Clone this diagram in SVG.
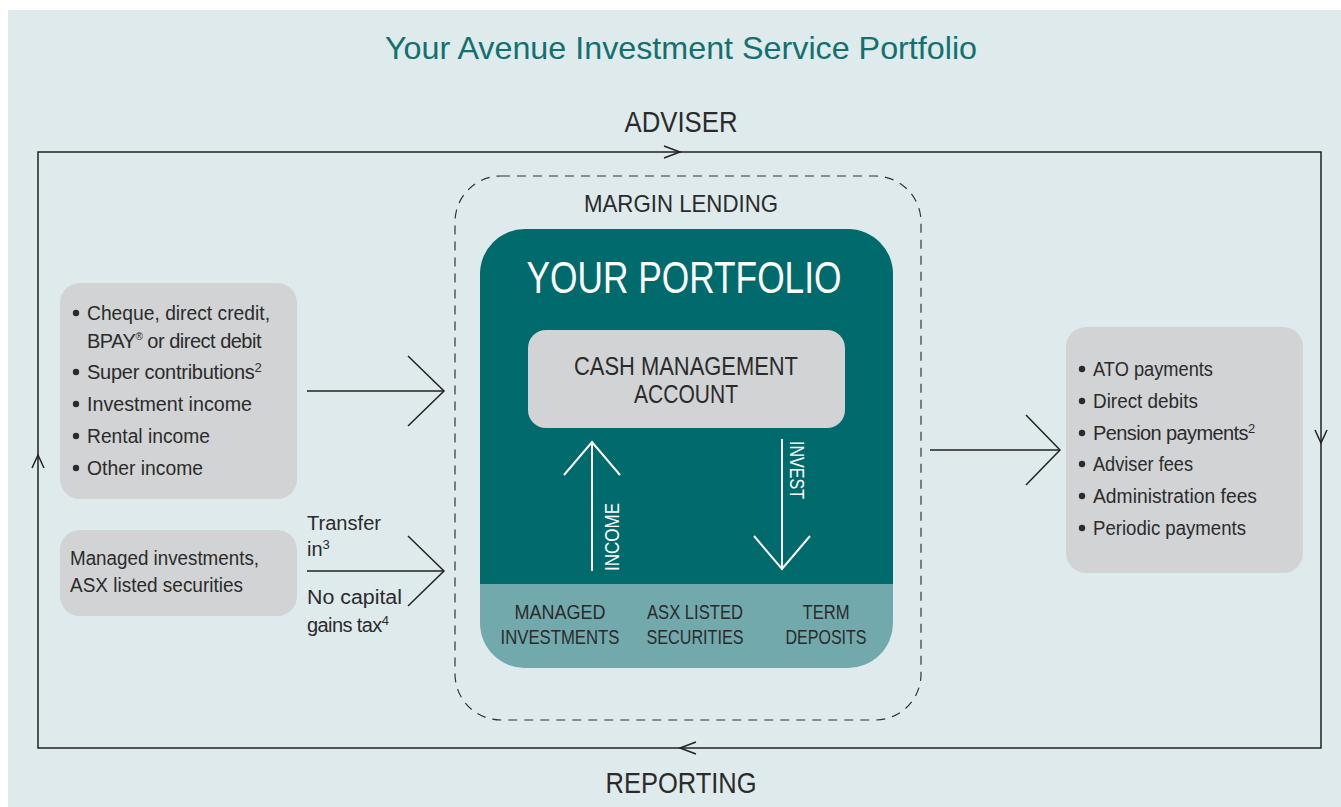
<svg xmlns="http://www.w3.org/2000/svg" width="1341" height="807" viewBox="0 0 1341 807">
  <defs>
    <style>
      .ink { fill: #2b2b2b; font-family: "Liberation Sans", Arial, sans-serif; }
      .body { font-size: 20px; }
      .sup { font-size: 13px; }
      .white { fill: #ffffff; font-family: "Liberation Sans", Arial, sans-serif; }
      .line { fill: none; stroke: #222; stroke-width: 1.5; }
      .wline { fill: none; stroke: #ffffff; stroke-width: 2; }
      .grey { fill: #d1d3d4; }
    </style>
  </defs>

  <!-- page background -->
  <rect x="0" y="0" width="1341" height="807" fill="#ffffff"/>
  <rect x="8" y="10" width="1333" height="797" fill="#deeaec"/>

  <!-- title -->
  <text x="681" y="59" text-anchor="middle" font-family="'Liberation Sans', Arial, sans-serif" font-size="32" fill="#137070" textLength="592" lengthAdjust="spacingAndGlyphs">Your Avenue Investment Service Portfolio</text>

  <!-- connectors -->
  <g id="connectors">
    <!-- adviser / reporting loop -->
    <rect x="38" y="152" width="1283" height="596" class="line"/>
    <polyline points="664,146 680,152 664,158" class="line" stroke-width="1.2"/>
    <polyline points="696,742 680,748 696,754" class="line" stroke-width="1.2"/>
    <polyline points="32,468 38,455 44,468" class="line" stroke-width="1.2"/>
    <polyline points="1315,430 1321,443 1327,430" class="line" stroke-width="1.2"/>

    <!-- cash in -->
    <line x1="307" y1="391" x2="444" y2="391" class="line"/>
    <polyline points="408,356 444,391 408,426" class="line"/>

    <!-- transfer in -->
    <line x1="307" y1="571" x2="444" y2="571" class="line"/>
    <polyline points="408,536 444,571 408,606" class="line"/>

    <!-- payments out -->
    <line x1="930" y1="450" x2="1060" y2="450" class="line"/>
    <polyline points="1026,415 1060,450 1026,485" class="line"/>
  </g>

  <!-- loop labels -->
  <g id="adviser">
    <text x="681" y="132" text-anchor="middle" class="ink" font-size="30" textLength="113" lengthAdjust="spacingAndGlyphs">ADVISER</text>
  </g>
  <g id="reporting">
    <text x="681" y="793" text-anchor="middle" class="ink" font-size="30" textLength="151" lengthAdjust="spacingAndGlyphs">REPORTING</text>
  </g>

  <!-- margin lending boundary -->
  <g id="margin-lending">
    <rect x="455" y="176" width="466" height="544" rx="46" ry="46" fill="none" stroke="#333" stroke-width="1.2" stroke-dasharray="9 7"/>
    <text x="681" y="212" text-anchor="middle" class="ink" font-size="24" textLength="194" lengthAdjust="spacingAndGlyphs">MARGIN LENDING</text>
  </g>

  <!-- portfolio -->
  <g id="portfolio">
    <path d="M525,229 H848 A45,45 0 0 1 893,274 V584 H480 V274 A45,45 0 0 1 525,229 Z" fill="#006a6d"/>
    <path d="M480,584 H893 V623 A45,45 0 0 1 848,668 H525 A45,45 0 0 1 480,623 Z" fill="#72a9ad"/>
    <text x="684" y="293" text-anchor="middle" class="white" font-size="44" textLength="315" lengthAdjust="spacingAndGlyphs">YOUR PORTFOLIO</text>
  </g>

  <g id="cash-management">
    <rect x="528" y="330" width="317" height="98" rx="18" ry="18" class="grey"/>
    <text x="686" y="375" text-anchor="middle" class="ink" font-size="26" textLength="224" lengthAdjust="spacingAndGlyphs">CASH MANAGEMENT</text>
    <text x="686" y="403" text-anchor="middle" class="ink" font-size="26" textLength="104" lengthAdjust="spacingAndGlyphs">ACCOUNT</text>
  </g>

  <g id="income">
    <line x1="592" y1="442" x2="592" y2="571" class="wline"/>
    <polyline points="564,475 592,442 620,475" class="wline"/>
    <text transform="translate(619,571) rotate(-90)" class="white" font-size="20" textLength="68" lengthAdjust="spacingAndGlyphs">INCOME</text>
  </g>

  <g id="invest">
    <line x1="782" y1="439" x2="782" y2="570" class="wline"/>
    <polyline points="754,536 782,569 810,536" class="wline"/>
    <text transform="translate(790,441) rotate(90)" class="white" font-size="20" textLength="58" lengthAdjust="spacingAndGlyphs">INVEST</text>
  </g>

  <g id="managed-investments">
    <text x="560" y="619" text-anchor="middle" class="ink" font-size="21" textLength="91" lengthAdjust="spacingAndGlyphs">MANAGED</text>
    <text x="560" y="644" text-anchor="middle" class="ink" font-size="21" textLength="119" lengthAdjust="spacingAndGlyphs">INVESTMENTS</text>
  </g>
  <g id="asx-listed-securities">
    <text x="695" y="619" text-anchor="middle" class="ink" font-size="21" textLength="96" lengthAdjust="spacingAndGlyphs">ASX LISTED</text>
    <text x="695" y="644" text-anchor="middle" class="ink" font-size="21" textLength="97" lengthAdjust="spacingAndGlyphs">SECURITIES</text>
  </g>
  <g id="term-deposits">
    <text x="826" y="619" text-anchor="middle" class="ink" font-size="21" textLength="47" lengthAdjust="spacingAndGlyphs">TERM</text>
    <text x="826" y="644" text-anchor="middle" class="ink" font-size="21" textLength="81" lengthAdjust="spacingAndGlyphs">DEPOSITS</text>
  </g>

  <!-- contributions in -->
  <g id="contributions">
    <rect x="60" y="283" width="237" height="216" rx="20" ry="20" class="grey"/>
    <g fill="#2b2b2b">
      <circle cx="76" cy="313" r="3.2"/>
      <circle cx="76" cy="372" r="3.2"/>
      <circle cx="76" cy="404" r="3.2"/>
      <circle cx="76" cy="436" r="3.2"/>
      <circle cx="76" cy="468" r="3.2"/>
    </g>
    <text x="87" y="320" class="ink body" textLength="183" lengthAdjust="spacingAndGlyphs">Cheque, direct credit,</text>
    <text x="87" y="348" class="ink body" letter-spacing="-0.5">BPAY<tspan font-size="10" dy="-8">®</tspan><tspan dy="8"> or direct debit</tspan></text>
    <text x="87" y="379" class="ink body" letter-spacing="-0.25">Super contributions<tspan class="sup" dy="-7">2</tspan></text>
    <text x="87" y="411" class="ink body" textLength="165" lengthAdjust="spacingAndGlyphs">Investment income</text>
    <text x="87" y="443" class="ink body" textLength="123" lengthAdjust="spacingAndGlyphs">Rental income</text>
    <text x="87" y="475" class="ink body" textLength="116" lengthAdjust="spacingAndGlyphs">Other income</text>
  </g>

  <!-- transfer in -->
  <g id="transfer-assets">
    <rect x="60" y="530" width="237" height="86" rx="20" ry="20" class="grey"/>
    <text x="70" y="565" class="ink body" textLength="189" lengthAdjust="spacingAndGlyphs">Managed investments,</text>
    <text x="70" y="592" class="ink body" textLength="173" lengthAdjust="spacingAndGlyphs">ASX listed securities</text>
  </g>
  <g id="transfer-label">
    <text x="307" y="530" class="ink body" textLength="74" lengthAdjust="spacingAndGlyphs">Transfer</text>
    <text x="307" y="556" class="ink body">in<tspan class="sup" dy="-7">3</tspan></text>
    <text x="307" y="604" class="ink body" textLength="95" lengthAdjust="spacingAndGlyphs">No capital</text>
    <text x="307" y="632" class="ink body" letter-spacing="-0.6">gains tax<tspan class="sup" dy="-7">4</tspan></text>
  </g>

  <!-- payments out -->
  <g id="payments">
    <rect x="1066" y="327" width="237" height="246" rx="20" ry="20" class="grey"/>
    <g fill="#2b2b2b">
      <circle cx="1082" cy="369" r="3.2"/>
      <circle cx="1082" cy="401" r="3.2"/>
      <circle cx="1082" cy="433" r="3.2"/>
      <circle cx="1082" cy="464" r="3.2"/>
      <circle cx="1082" cy="496" r="3.2"/>
      <circle cx="1082" cy="528" r="3.2"/>
    </g>
    <text x="1093" y="376" class="ink body" textLength="120" lengthAdjust="spacingAndGlyphs">ATO payments</text>
    <text x="1093" y="408" class="ink body" textLength="105" lengthAdjust="spacingAndGlyphs">Direct debits</text>
    <text x="1093" y="440" class="ink body" letter-spacing="-0.6">Pension payments<tspan class="sup" dy="-7">2</tspan></text>
    <text x="1093" y="471" class="ink body" textLength="100" lengthAdjust="spacingAndGlyphs">Adviser fees</text>
    <text x="1093" y="503" class="ink body" textLength="164" lengthAdjust="spacingAndGlyphs">Administration fees</text>
    <text x="1093" y="535" class="ink body" textLength="153" lengthAdjust="spacingAndGlyphs">Periodic payments</text>
  </g>
</svg>
